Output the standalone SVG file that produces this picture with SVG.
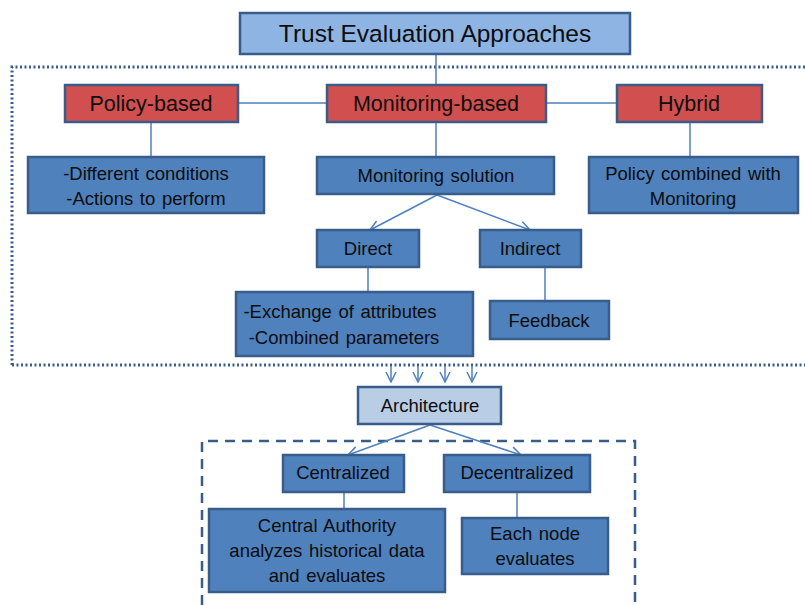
<svg xmlns="http://www.w3.org/2000/svg" width="805" height="605" viewBox="0 0 805 605">
<defs>
<style>
.t{font-family:"Liberation Sans",Arial,sans-serif;fill:#0d0d0d;text-anchor:middle}
.s{font-size:18.5px;word-spacing:1.5px}
.r{font-size:21.5px}
.red{fill:#d14f4f;stroke:#385d8a;stroke-width:2.5}
.blue{fill:#4f81bd;stroke:#385d8a;stroke-width:2.5}
.top{fill:#8eb4e3;stroke:#385d8a;stroke-width:2.5}
.arch{fill:#b9cde5;stroke:#385d8a;stroke-width:2.5}
.ln{stroke:#4f81bd;stroke-width:1.5;fill:none}
</style>
<marker id="ah" viewBox="0 0 12 12" refX="11" refY="6" markerWidth="12" markerHeight="12" markerUnits="userSpaceOnUse" orient="auto">
<path d="M1,1 L11,6 L1,11" fill="none" stroke="#4f81bd" stroke-width="1.5"/>
</marker>
</defs>
<rect width="805" height="605" fill="#ffffff"/>
<g id="frames">
<path d="M12,365 L12,67 L805,67 M12,365 L805,365" fill="none" stroke="#385d8a" stroke-width="3" stroke-dasharray="2,2.5"/>
<path d="M202,605 L202,441 L635,441 L635,605" fill="none" stroke="#385d8a" stroke-width="2.5" stroke-dasharray="10,7"/>
</g>
<g id="connectors">
<line class="ln" x1="436" y1="54" x2="436" y2="85"/>
<line class="ln" x1="238" y1="103" x2="327" y2="103"/>
<line class="ln" x1="546" y1="103" x2="617" y2="103"/>
<line class="ln" x1="151" y1="122" x2="151" y2="157"/>
<line class="ln" x1="436" y1="122" x2="436" y2="157"/>
<line class="ln" x1="690" y1="122" x2="690" y2="157"/>
<line class="ln" x1="437" y1="195" x2="370" y2="230" marker-end="url(#ah)"/>
<line class="ln" x1="437" y1="195" x2="530" y2="230" marker-end="url(#ah)"/>
<line class="ln" x1="368" y1="267" x2="368" y2="292"/>
<line class="ln" x1="545" y1="267" x2="545" y2="301"/>
<line class="ln" x1="391" y1="366" x2="391" y2="382" marker-end="url(#ah)"/>
<line class="ln" x1="418" y1="366" x2="418" y2="382" marker-end="url(#ah)"/>
<line class="ln" x1="445" y1="366" x2="445" y2="382" marker-end="url(#ah)"/>
<line class="ln" x1="472" y1="366" x2="472" y2="382" marker-end="url(#ah)"/>
<line class="ln" x1="430" y1="425" x2="348" y2="455" marker-end="url(#ah)"/>
<line class="ln" x1="430" y1="425" x2="521" y2="455" marker-end="url(#ah)"/>
<line class="ln" x1="344" y1="492" x2="344" y2="509"/>
<line class="ln" x1="517" y1="492" x2="517" y2="518"/>
</g>
<g id="trust"><rect class="top" x="240" y="13" width="390" height="41"/><text class="t" x="435" y="42" font-size="24.5">Trust Evaluation Approaches</text></g>
<g id="policy"><rect class="red" x="65" y="85" width="173" height="37"/><text class="t r" x="151" y="111">Policy-based</text></g>
<g id="monitoring"><rect class="red" x="327" y="85" width="219" height="37"/><text class="t r" x="436" y="111">Monitoring-based</text></g>
<g id="hybrid"><rect class="red" x="617" y="85" width="145" height="37"/><text class="t r" x="689" y="111">Hybrid</text></g>
<g id="conditions"><rect class="blue" x="28" y="157" width="236" height="56"/><text class="t s" x="146" y="180">-Different conditions</text><text class="t s" x="146" y="205">-Actions to perform</text></g>
<g id="monsolution"><rect class="blue" x="317" y="157" width="237" height="37"/><text class="t s" x="436" y="182">Monitoring solution</text></g>
<g id="combined"><rect class="blue" x="589" y="157" width="209" height="56"/><text class="t s" x="693" y="180">Policy combined with</text><text class="t s" x="693" y="205">Monitoring</text></g>
<g id="direct"><rect class="blue" x="317" y="230" width="102" height="37"/><text class="t s" x="368" y="255">Direct</text></g>
<g id="indirect"><rect class="blue" x="480" y="230" width="101" height="37"/><text class="t s" x="530" y="255">Indirect</text></g>
<g id="exchange"><rect class="blue" x="236" y="292" width="237" height="64"/><text class="t s" x="340" y="318">-Exchange of attributes</text><text class="t s" x="344" y="344">-Combined parameters</text></g>
<g id="feedback"><rect class="blue" x="490" y="301" width="119" height="38"/><text class="t s" x="549" y="327">Feedback</text></g>
<g id="architecture"><rect class="arch" x="358" y="387" width="143" height="37"/><text class="t s" x="430" y="412">Architecture</text></g>
<g id="centralized"><rect class="blue" x="283" y="455" width="121" height="37"/><text class="t s" x="343" y="479">Centralized</text></g>
<g id="decentralized"><rect class="blue" x="444" y="455" width="146" height="37"/><text class="t s" x="517" y="479">Decentralized</text></g>
<g id="central"><rect class="blue" x="209" y="509" width="236" height="83"/><text class="t s" x="327" y="532">Central Authority</text><text class="t s" x="327" y="557">analyzes historical data</text><text class="t s" x="327" y="582">and evaluates</text></g>
<g id="eachnode"><rect class="blue" x="462" y="518" width="146" height="56"/><text class="t s" x="535" y="540">Each node</text><text class="t s" x="535" y="565">evaluates</text></g>
</svg>
